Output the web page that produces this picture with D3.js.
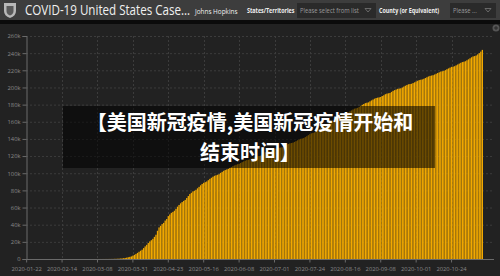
<!DOCTYPE html>
<html>
  <head>
    <meta charset="UTF-8" />
    <title>COVID-19 United States Cases</title>
    <script src="https://d3js.org/d3.v7.min.js"></script>
    <style>
      * {
        margin: 0;
        padding: 0;
        box-sizing: border-box;
      }
      body {
        background-color: #222222;
        width: 500px;
        height: 276px;
        overflow: hidden;
      }
      svg {
        display: block;
      }
      .tick text {
        fill: #8a8a8a;
        font-family: "Open Sans", Arial, sans-serif;
        font-size: 5.8px;
      }
      .grid line {
        stroke: #3c3c3c;
        stroke-dasharray: 2, 2;
      }
      .hdr {
        font-family: "Open Sans", Arial, sans-serif;
        fill: #f0f0f0;
      }
      .overlay-text {
        font-family: "Noto Sans CJK SC", sans-serif;
        font-weight: 700;
        font-size: 20px;
        fill: #ffffff;
        text-anchor: middle;
      }
    </style>
  </head>
  <body>
    <svg id="chart" width="500" height="276"></svg>
  </body>
  <script>
    // cumulative totals (thousands), one value per day from 2020-01-22
    const startDate = "2020-01-22";
    const janFeb = new Array(10 + 29).fill(0);
    const march = [0.001, 0.006, 0.009, 0.011, 0.012, 0.014, 0.017, 0.021, 0.022, 0.028, 0.036, 0.04, 0.047, 0.054, 0.063, 0.085,
      0.108, 0.118, 0.2, 0.244, 0.307, 0.427, 0.552, 0.706, 0.942, 1.209, 1.581, 2.026, 2.467, 2.978, 3.873];
    const april = [4.8, 5.9, 7.1, 8.4, 9.6, 10.8, 12.7, 14.7, 16.5, 18.6, 20.5, 21.9, 23.5, 25.8, 28.3, 32.9, 36.8, 38.7, 40.7,
      42.1, 44.8, 46.6, 50.0, 51.9, 53.8, 54.9, 56.3, 58.4, 61.0, 63.0];
    const may = [64.9, 66.4, 67.7, 68.9, 71.1, 73.4, 75.7, 77.2, 78.8, 79.5, 80.7, 82.4, 84.1, 85.9, 87.5, 88.8, 89.6, 90.4, 91.9,
      93.4, 94.7, 95.9, 97.0, 97.6, 98.2, 98.9, 100.4, 101.6, 102.8, 103.7, 104.4];
    const june = [105.1, 106.2, 107.2, 108.2, 109.1, 109.8, 110.5, 111.0, 111.9, 112.9, 113.8, 114.6, 115.3, 115.7, 116.1, 116.9,
      117.7, 118.4, 119.1, 119.7, 120.0, 120.4, 121.2, 121.9, 124.4, 125.0, 125.5, 125.8, 126.1, 127.3];
    const july = [128.0, 128.7, 129.3, 129.6, 129.9, 130.3, 131.5, 132.3, 133.3, 134.1, 134.8, 135.2, 135.6, 136.5, 137.4, 138.4,
      139.3, 140.1, 140.5, 141.0, 142.1, 143.2, 144.4, 145.6, 146.5, 147.0, 147.6, 149.0, 150.5, 151.8, 153.1];
    const august = [154.3, 154.7, 155.2, 156.6, 157.9, 159.1, 160.4, 161.4, 162.0, 162.5, 163.6, 165.1, 166.1, 167.2, 168.4, 169.0,
      169.5, 170.8, 172.1, 173.2, 174.3, 175.3, 175.7, 176.2, 177.4, 178.5, 179.7, 180.7, 181.7, 182.2, 182.6];
    const september = [183.8, 184.9, 185.9, 186.9, 187.7, 188.1, 188.5, 188.9, 190.0, 190.9, 192.1, 192.8, 193.2, 193.6, 194.8,
      196.0, 196.9, 197.6, 198.4, 198.7, 199.0, 199.9, 201.0, 202.0, 202.9, 203.7, 204.0, 204.3, 205.1, 206.0];
    const october = [206.9, 207.8, 208.6, 209.0, 209.4, 210.1, 211.0, 211.9, 212.8, 213.5, 213.9, 214.3, 215.1, 216.0, 216.9, 217.7,
      218.5, 218.9, 219.3, 220.2, 221.3, 222.2, 223.1, 224.0, 224.3, 224.8, 225.8, 226.8, 227.8, 228.7, 229.6];
    const november = [230.0, 230.6, 231.7, 232.8, 234.0, 235.2, 236.2, 236.6, 237.3, 238.6, 240.0, 241.8, 243.8];

    const xTickLabels = ["2020-01-22", "2020-02-14", "2020-03-08", "2020-03-31", "2020-04-23", "2020-05-16", "2020-06-08",
      "2020-07-01", "2020-07-24", "2020-08-16", "2020-09-08", "2020-10-01", "2020-10-24"];
    const yTicks = [0, 20, 40, 60, 80, 100, 120, 140, 160, 180, 200, 220, 240, 260];

    const values = [].concat(janFeb, march, april, may, june, july, august, september, october, november);
    const parse = d3.utcParse("%Y-%m-%d");
    const fmt = d3.utcFormat("%Y-%m-%d");
    const t0 = parse(startDate);
    const data = values.map((v, i) => ({ date: fmt(d3.utcDay.offset(t0, i)), value: v }));

    const svg = d3.select("#chart");

    const x = d3.scaleBand()
      .domain(data.map(d => d.date))
      .range([26, 483])
      .paddingInner(0.15);
    const y = d3.scaleLinear().domain([0, 260]).range([259, 36]);

    // header bar
    svg.append("rect").attr("x", 0).attr("y", 0).attr("width", 500).attr("height", 20).attr("fill", "#3d3d3d");
    svg.append("rect").attr("x", 0).attr("y", 20).attr("width", 500).attr("height", 4).attr("fill", "#0b0b0b");

    // logo shield
    svg.append("path")
      .attr("d", "M4,3 L16,3 L16,11 Q16,16 10,18 Q4,16 4,11 Z")
      .attr("fill", "#b8b8b8");
    svg.append("path")
      .attr("d", "M6.5,6 L13.5,6 L13.5,11 Q13.5,14 10,15.5 Q6.5,14 6.5,11 Z")
      .attr("fill", "#5a5a5a");

    // header texts, squeezed horizontally to fit their slots
    function hdrText(x0, y0, sx, size, weight, str, fill) {
      svg.append("text").attr("class", "hdr")
        .attr("transform", `translate(${x0},${y0}) scale(${sx},1)`)
        .style("font-size", size + "px").style("font-weight", weight)
        .style("fill", fill || null)
        .text(str);
    }
    hdrText(25, 15, 0.8, 14.5, 400, "COVID-19 United States Case…");
    hdrText(195, 13.5, 0.8, 8, 400, "Johns Hopkins");
    hdrText(247, 13, 0.72, 7.5, 700, "States/Territories");

    // dropdowns
    const drops = [
      { x: 297, w: 79, label: "Please select from list" },
      { x: 450, w: 46, label: "Please ..." }
    ];
    drops.forEach(dd => {
      svg.append("rect").attr("x", dd.x).attr("y", 3).attr("width", dd.w).attr("height", 15).attr("fill", "#2a2a2a");
      hdrText(dd.x + 3, 13, 0.9, 6.5, 400, dd.label, "#9a9a9a");
      const cx = dd.x + dd.w - 8;
      svg.append("path").attr("d", `M${cx - 3},8.5 L${cx + 3},8.5 L${cx},12 Z`)
        .attr("fill", "none").attr("stroke", "#777").attr("stroke-width", 0.8);
    });
    hdrText(379, 13, 0.72, 7.5, 700, "County (or Equivalent)");

    // small corner icon
    svg.append("circle").attr("cx", 496).attr("cy", 28).attr("r", 3.5).attr("fill", "#555");
    svg.append("path").attr("d", "M494,28 L498,28 M496,26 L496,30").attr("stroke", "#222").attr("stroke-width", 0.8);

    // gridlines
    const tickX = d => x(d) + x.bandwidth() / 2;
    svg.append("g").attr("class", "grid")
      .selectAll("line.h").data(yTicks.filter(d => d > 0)).join("line")
      .attr("x1", 26).attr("x2", 494)
      .attr("y1", d => y(d) + 0.5).attr("y2", d => y(d) + 0.5);
    svg.append("g").attr("class", "grid")
      .selectAll("line.v").data(xTickLabels.slice(1)).join("line")
      .attr("x1", d => Math.round(tickX(d)) + 0.5).attr("x2", d => Math.round(tickX(d)) + 0.5)
      .attr("y1", 36).attr("y2", 259);

    // bars
    svg.append("g")
      .selectAll("rect").data(data).join("rect")
      .attr("x", d => x(d.date))
      .attr("width", x.bandwidth())
      .attr("y", d => y(d.value))
      .attr("height", d => y(0) - y(d.value))
      .attr("fill", "#f2a900");

    // axes
    const yAxis = d3.axisLeft(y).tickValues(yTicks).tickSize(4).tickPadding(2)
      .tickFormat(d => d === 0 ? "0" : d + "k");
    const gy = svg.append("g").attr("transform", "translate(26.5,0)").call(yAxis);
    gy.selectAll("path, line").attr("stroke", "#6a6a6a");

    const xAxis = d3.axisBottom(x).tickValues(xTickLabels).tickSize(3).tickPadding(4);
    const gx = svg.append("g").attr("transform", "translate(0,259.5)").call(xAxis);
    gx.select(".domain").attr("d", "M26,0H494");
    gx.selectAll("path, line").attr("stroke", "#6a6a6a");

    // title overlay
    svg.append("rect").attr("x", 63).attr("y", 106).attr("width", 372).attr("height", 62)
      .attr("fill", "rgba(0,0,0,0.55)");
    const lines = ["【美国新冠疫情,美国新冠疫情开始和", "结束时间】"];
    svg.append("g").selectAll("text").data(lines).join("text")
      .attr("class", "overlay-text")
      .attr("x", 250)
      .attr("y", (d, i) => 130 + i * 29.5)
      .text(d => d);
  </script>
</html>
